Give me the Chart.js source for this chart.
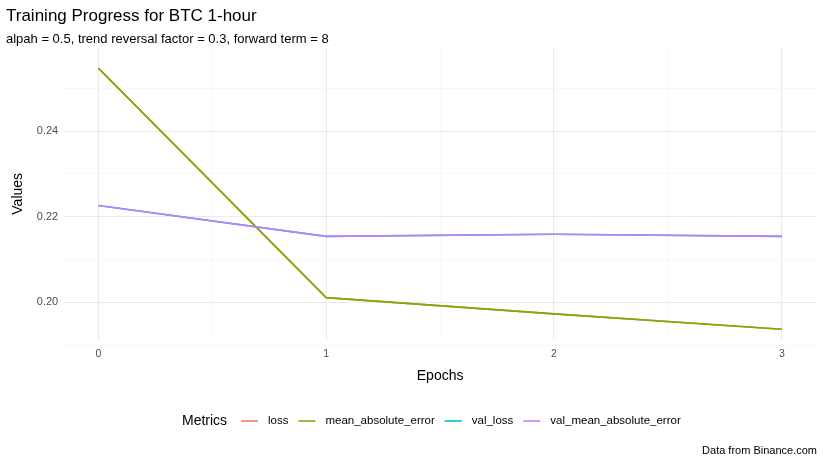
<!DOCTYPE html>
<html>
<head>
<meta charset="utf-8">
<script src="https://cdn.jsdelivr.net/npm/chart.js@4/dist/chart.umd.min.js"></script>
<style>
  body { margin: 0; background: #fff; }
  #wrap { width: 825px; height: 465px; }
</style>
</head>
<body>
<div id="wrap"><canvas id="chart"></canvas></div>
<script>
// Data
const epochs = [0, 1, 2, 3];
const loss = [0.2547, 0.2011, 0.1973, 0.1937];
const meanAbsoluteError = [0.2547, 0.2011, 0.1973, 0.1937];
const valLoss = [0.2226, 0.2154, 0.2159, 0.2154];
const valMeanAbsoluteError = [0.2226, 0.2154, 0.2159, 0.2154];
const seriesNames = ["loss", "mean_absolute_error", "val_loss", "val_mean_absolute_error"];
const seriesColors = ["#F8766D", "#7CAE00", "#00BFC4", "#C77CFF"];
const seriesValues = [loss, meanAbsoluteError, valLoss, valMeanAbsoluteError];
const drawOrder = [4, 2, 3, 1];

const font = "'Liberation Sans', Arial, sans-serif";

const datasets = seriesNames.map(function (name, i) {
    return {
        label: name,
        data: epochs.map(function (e, j) { return { x: e, y: seriesValues[i][j] }; }),
        borderColor: seriesColors[i],
        backgroundColor: seriesColors[i],
        borderWidth: 1.6,
        pointRadius: 0,
        tension: 0,
        order: drawOrder[i]
    };
});

// Caption + ggplot-style legend (title on the left) drawn on the canvas
const extraText = {
    id: 'extraText',
    afterDraw: function (chart) {
        const ctx = chart.ctx;
        ctx.save();
        ctx.fillStyle = '#000';
        ctx.textBaseline = 'middle';
        ctx.font = "11px " + font;
        ctx.textAlign = 'right';
        ctx.fillText('Data from Binance.com', 817, 451);
        ctx.textAlign = 'left';
        ctx.font = "14px " + font;
        ctx.fillText('Metrics', 182, 421);
        let x = 241;
        ctx.font = "11.5px " + font;
        chart.data.datasets.forEach(function (ds) {
            ctx.strokeStyle = ds.borderColor;
            ctx.lineWidth = 1.6;
            ctx.beginPath();
            ctx.moveTo(x, 421);
            ctx.lineTo(x + 17, 421);
            ctx.stroke();
            ctx.fillStyle = '#000';
            ctx.fillText(ds.label, x + 27, 421);
            x += 27 + ctx.measureText(ds.label).width + 10;
        });
        ctx.restore();
    }
};

new Chart(document.getElementById('chart').getContext('2d'), {
    type: 'line',
    data: { datasets: datasets },
    plugins: [extraText],
    options: {
        responsive: true,
        maintainAspectRatio: false,
        animation: false,
        layout: { padding: { left: 6, right: 9, top: 6, bottom: 76 } },
        plugins: {
            tooltip: { enabled: false },
            legend: { display: false },
            title: {
                display: true,
                text: 'Training Progress for BTC 1-hour',
                align: 'start',
                color: '#000',
                font: { family: font, size: 17, weight: 'normal' },
                padding: { top: 0, bottom: 5 }
            },
            subtitle: {
                display: true,
                text: 'alpah = 0.5, trend reversal factor = 0.3, forward term = 8',
                align: 'start',
                color: '#000',
                font: { family: font, size: 13 },
                padding: { bottom: 1 }
            }
        },
        scales: {
            x: {
                type: 'linear',
                min: -0.15,
                max: 3.15,
                border: { display: false },
                afterBuildTicks: function (axis) {
                    axis.ticks = [0, 0.5, 1, 1.5, 2, 2.5, 3].map(function (v) { return { value: v }; });
                },
                grid: {
                    drawTicks: false,
                    color: function (c) { return Number.isInteger(c.tick.value) ? '#ebebeb' : '#f4f4f4'; },
                    lineWidth: function (c) { return Number.isInteger(c.tick.value) ? 1.1 : 0.6; }
                },
                ticks: {
                    color: '#4d4d4d',
                    padding: 8,
                    font: { family: font, size: 10.5 },
                    callback: function (v) { return Number.isInteger(v) ? v : ''; }
                },
                title: { display: true, text: 'Epochs', color: '#000', font: { family: font, size: 14 }, padding: { top: 0 } }
            },
            y: {
                min: 0.1913,
                max: 0.2594,
                border: { display: false },
                afterBuildTicks: function (axis) {
                    axis.ticks = [0.19, 0.20, 0.21, 0.22, 0.23, 0.24, 0.25].map(function (v) { return { value: v }; });
                },
                grid: {
                    drawTicks: false,
                    color: function (c) { return Math.round(c.tick.value * 100) % 2 === 0 ? '#ebebeb' : '#f4f4f4'; },
                    lineWidth: function (c) { return Math.round(c.tick.value * 100) % 2 === 0 ? 1.1 : 0.6; }
                },
                ticks: {
                    color: '#4d4d4d',
                    padding: 6,
                    font: { family: font, size: 11 },
                    callback: function (v) { return Math.round(v * 100) % 2 === 0 ? v.toFixed(2) : ''; }
                },
                title: { display: true, text: 'Values', color: '#000', font: { family: font, size: 14 }, padding: { bottom: 4 } }
            }
        }
    }
});
</script>
</body>
</html>
